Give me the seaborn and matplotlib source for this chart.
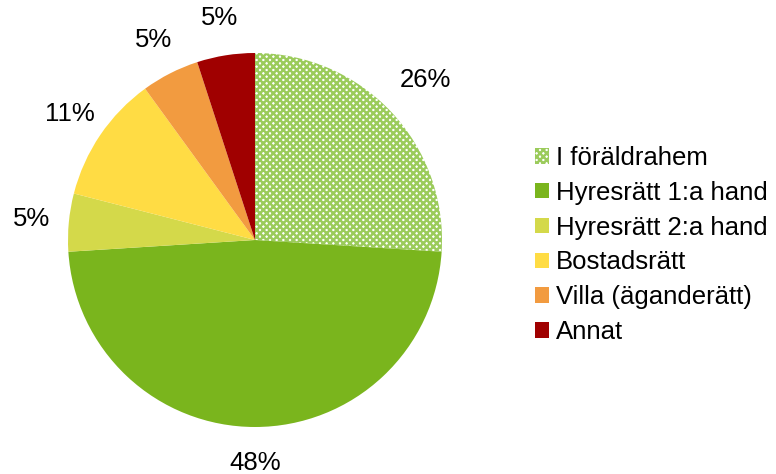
import matplotlib
matplotlib.use("Agg")
import matplotlib.pyplot as plt
import seaborn as sns

# data
categories = ["I föräldrahem", "Hyresrätt 1:a hand", "Hyresrätt 2:a hand",
              "Bostadsrätt", "Villa (äganderätt)", "Annat"]
shares = [26, 48, 5, 11, 5, 5]
colors = ["#FFFFFF", "#7AB51D", "#D4D94A", "#FFDC44", "#F29B40", "#A00000"]
label_dist = [1.25, 1.19, 1.2, 1.2, 1.2, 1.2]

sns.set_theme(style="white")
plt.rcParams["font.family"] = ["Liberation Sans", "DejaVu Sans"]
plt.rcParams["text.color"] = "black"
plt.rcParams["hatch.linewidth"] = 1.8

fig = plt.figure(figsize=(7.76, 4.74), dpi=100)
ax = fig.add_axes([68 / 776, 47 / 474, 374 / 776, 374 / 474])

wedges, texts = ax.pie(shares, colors=colors, startangle=90, counterclock=False,
                       labels=[f"{s}%" for s in shares], labeldistance=1.0,
                       wedgeprops=dict(linewidth=0),
                       textprops=dict(fontsize=18.5, color="black"))
for t, d in zip(texts, label_dist):
    x, y = t.get_position()
    t.set_position((x * d, y * d))
    t.set_horizontalalignment("center")
    t.set_verticalalignment("center")
wedges[0].set_hatch("xxxxx")
wedges[0].set_edgecolor("#9BCB5B")
wedges[0].set_linewidth(0)
ax.set_xlim(-1, 1)
ax.set_ylim(-1, 1)

leg = ax.legend(wedges, categories, loc="upper left", bbox_to_anchor=(535 / 776, 1 - 146 / 474),
                bbox_transform=fig.transFigure, frameon=False, fontsize=18.5,
                handlelength=0.55, handleheight=0.55, handletextpad=0.25, labelspacing=0.42,
                borderaxespad=0, borderpad=0)
for t in leg.get_texts():
    t.set_color("black")

fig.savefig("out.png", dpi=100)
